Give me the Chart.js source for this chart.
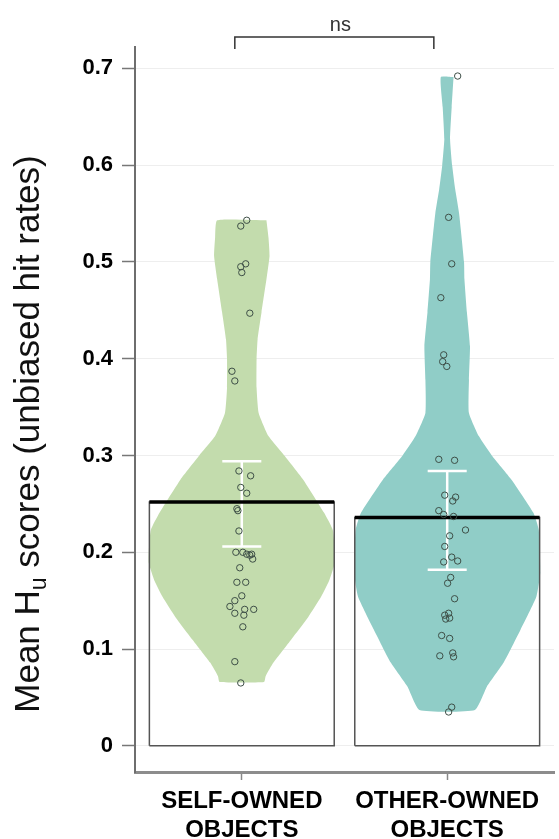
<!DOCTYPE html>
<html>
<head>
<meta charset="utf-8">
<script src="https://cdn.jsdelivr.net/npm/chart.js@4.4.1/dist/chart.umd.min.js"></script>
<style>
  html, body { margin: 0; padding: 0; background: #fff; }
  #wrap { width: 559px; height: 839px; }
</style>
</head>
<body>
<div id="wrap"><canvas id="huChart" width="559" height="839"></canvas></div>
<script>
// groups on the x axis
const groupLabels = [['SELF-OWNED', 'OBJECTS'], ['OTHER-OWNED', 'OBJECTS']];
const groupPos = [1, 2];

// bar heights (means) and error bar ends
const means = [0.252, 0.236];
const errLow = [0.206, 0.182];
const errHigh = [0.294, 0.284];

// y axis ticks
const yTicks = [0, 0.1, 0.2, 0.3, 0.4, 0.5, 0.6, 0.7];

// violin outlines: score level and half width (x units)
const selfViolinY = [0.543, 0.525, 0.506, 0.482, 0.448, 0.42, 0.40, 0.37, 0.344, 0.32, 0.30, 0.275, 0.241, 0.223, 0.20, 0.189, 0.17, 0.154, 0.133, 0.11, 0.086, 0.072, 0.066];
const selfViolinW = [0.120, 0.130, 0.135, 0.120, 0.096, 0.077, 0.072, 0.072, 0.082, 0.130, 0.207, 0.299, 0.400, 0.443, 0.453, 0.453, 0.424, 0.386, 0.323, 0.241, 0.154, 0.116, 0.108];
const otherViolinY = [0.691, 0.66, 0.627, 0.60, 0.575, 0.55, 0.50, 0.482, 0.448, 0.413, 0.378, 0.344, 0.32, 0.30, 0.275, 0.241, 0.223, 0.179, 0.154, 0.12, 0.086, 0.061, 0.037];
const otherViolinW = [0.031, 0.022, 0.014, 0.024, 0.039, 0.058, 0.082, 0.084, 0.096, 0.111, 0.106, 0.106, 0.154, 0.217, 0.313, 0.419, 0.446, 0.453, 0.434, 0.357, 0.275, 0.193, 0.135];

// single participants: score and horizontal jitter
const selfScores = [0.543, 0.537, 0.498, 0.495, 0.489, 0.447, 0.387, 0.377, 0.284, 0.279, 0.267, 0.261, 0.245, 0.243, 0.222, 0.200, 0.200, 0.198, 0.197, 0.198, 0.193, 0.184, 0.169, 0.169, 0.155, 0.150, 0.144, 0.141, 0.141, 0.137, 0.135, 0.123, 0.087, 0.065];
const selfJitter = [0.024, -0.005, 0.019, -0.005, 0.000, 0.039, -0.048, -0.034, -0.014, 0.043, -0.005, 0.024, -0.024, -0.019, -0.014, -0.029, 0.005, 0.024, 0.039, 0.048, 0.053, -0.010, -0.024, 0.019, 0.000, -0.034, -0.058, 0.014, 0.058, -0.034, 0.010, 0.005, -0.034, -0.005];
const otherScores = [0.692, 0.546, 0.498, 0.463, 0.404, 0.397, 0.392, 0.296, 0.295, 0.259, 0.257, 0.253, 0.243, 0.239, 0.237, 0.223, 0.217, 0.206, 0.195, 0.191, 0.190, 0.174, 0.168, 0.152, 0.137, 0.135, 0.132, 0.131, 0.114, 0.111, 0.096, 0.093, 0.092, 0.040, 0.035];
const otherJitter = [0.051, 0.007, 0.022, -0.031, -0.017, -0.022, -0.002, -0.041, 0.036, -0.012, 0.041, 0.027, -0.041, -0.017, 0.031, 0.089, 0.012, -0.012, 0.022, 0.051, -0.017, 0.017, 0.002, 0.036, 0.007, -0.012, 0.012, -0.007, -0.027, 0.012, 0.027, -0.036, 0.031, 0.022, 0.007];

const boxHalf = 0.45;
const capHalf = 0.095;
const violinColors = ['#c3dcad', '#90cdc7'];

// closed outline of a violin around its group position
function violinOutline(center, ys, ws) {
    const right = ys.map((y, i) => ({ x: center + ws[i], y: y }));
    const left = ys.map((y, i) => ({ x: center - ws[i], y: y })).reverse();
    return right.concat(left, [right[0]]);
}

function boxOutline(center, mean) {
    return [
        { x: center - boxHalf, y: 0 }, { x: center - boxHalf, y: mean },
        { x: center + boxHalf, y: mean }, { x: center + boxHalf, y: 0 },
        { x: center - boxHalf, y: 0 }
    ];
}

function errorBar(center, lo, hi) {
    return [
        { x: center - capHalf, y: lo }, { x: center + capHalf, y: lo }, { x: center, y: null },
        { x: center, y: lo }, { x: center, y: hi }, { x: center, y: null },
        { x: center - capHalf, y: hi }, { x: center + capHalf, y: hi }
    ];
}

const violins = [
    violinOutline(groupPos[0], selfViolinY, selfViolinW),
    violinOutline(groupPos[1], otherViolinY, otherViolinW)
];
const dots = [
    selfScores.map((s, i) => ({ x: groupPos[0] + selfJitter[i], y: s })),
    otherScores.map((s, i) => ({ x: groupPos[1] + otherJitter[i], y: s }))
];

const datasets = [];
groupPos.forEach((c, g) => {
    datasets.push({
        data: violins[g], backgroundColor: violinColors[g], borderWidth: 0,
        fill: 'shape', tension: 0.15, pointRadius: 0, order: 5
    });
    datasets.push({
        data: boxOutline(c, means[g]), borderColor: '#555', borderWidth: 1.5,
        fill: false, tension: 0, pointRadius: 0, order: 4
    });
    datasets.push({
        data: errorBar(c, errLow[g], errHigh[g]), borderColor: '#ffffff', borderWidth: 2.5,
        fill: false, tension: 0, pointRadius: 0, spanGaps: false, order: 3
    });
    datasets.push({
        data: [{ x: c - boxHalf, y: means[g] }, { x: c + boxHalf, y: means[g] }],
        borderColor: '#000', borderWidth: 3.5, fill: false, pointRadius: 0, order: 2
    });
    datasets.push({
        data: dots[g], showLine: false, pointRadius: 3.2, pointBorderWidth: 1,
        pointBackgroundColor: 'rgba(0,0,0,0)', pointBorderColor: '#3e4f47', order: 1
    });
});

// y title with subscript, and the "ns" bracket
const extrasPlugin = {
    id: 'extras',
    afterDraw(chart) {
        const ctx = chart.ctx;
        const area = chart.chartArea;
        const x = chart.scales.x;

        // rotated y axis title
        ctx.save();
        ctx.translate(39, 434);
        ctx.rotate(-Math.PI / 2);
        ctx.fillStyle = '#111';
        ctx.textBaseline = 'alphabetic';
        const mainFont = '35px "Liberation Sans", Arial, sans-serif';
        const subFont = '23px "Liberation Sans", Arial, sans-serif';
        const parts = [['Mean H', mainFont, 0], ['u', subFont, 7], [' scores (unbiased hit rates)', mainFont, 0]];
        let total = 0;
        parts.forEach(p => { ctx.font = p[1]; total += ctx.measureText(p[0]).width; });
        let pos = -total / 2;
        parts.forEach(p => {
            ctx.font = p[1];
            ctx.fillText(p[0], pos, p[2]);
            pos += ctx.measureText(p[0]).width;
        });
        ctx.restore();

        // significance bracket
        const x1 = x.getPixelForValue(0.966);
        const x2 = x.getPixelForValue(1.935);
        const top = area.top - 10;
        ctx.save();
        ctx.strokeStyle = '#333';
        ctx.lineWidth = 1.5;
        ctx.beginPath();
        ctx.moveTo(x1, area.top + 2);
        ctx.lineTo(x1, top);
        ctx.lineTo(x2, top);
        ctx.lineTo(x2, area.top + 2);
        ctx.stroke();
        ctx.fillStyle = '#333';
        ctx.font = '20px "Liberation Sans", Arial, sans-serif';
        ctx.textAlign = 'center';
        ctx.textBaseline = 'alphabetic';
        ctx.fillText('ns', (x1 + x2) / 2 + 6, top - 6);
        ctx.restore();
    }
};

new Chart(document.getElementById('huChart'), {
    type: 'line',
    data: { datasets: datasets },
    options: {
        responsive: false,
        animation: false,
        layout: { padding: { top: 47, right: 0, left: 0, bottom: 0 } },
        plugins: { legend: { display: false }, tooltip: { enabled: false } },
        scales: {
            x: {
                type: 'linear',
                min: 0.48,
                max: 2.52,
                afterBuildTicks: scale => { scale.ticks = groupPos.map(v => ({ value: v })); },
                afterFit: scale => { scale.height = 67; },
                ticks: {
                    autoSkip: false,
                    maxRotation: 0,
                    padding: 7,
                    color: '#000',
                    font: { family: '"Liberation Sans", Arial, sans-serif', size: 24, weight: 'bold', lineHeight: 1.2 },
                    callback: value => groupLabels[groupPos.indexOf(value)]
                },
                grid: { drawOnChartArea: false, tickLength: 8, tickColor: '#888', tickWidth: 1.5 },
                border: { color: '#8c8c8c', width: 3 }
            },
            y: {
                type: 'linear',
                min: -0.027,
                max: 0.722,
                afterBuildTicks: scale => { scale.ticks = yTicks.map(v => ({ value: v })); },
                afterFit: scale => { scale.width = 135; },
                ticks: {
                    padding: 9,
                    color: '#000',
                    font: { family: '"Liberation Sans", Arial, sans-serif', size: 22, weight: 'bold' },
                    callback: value => value === 0 ? '0' : value.toFixed(1)
                },
                grid: { color: '#eeeeee', lineWidth: 1, tickLength: 13, tickColor: '#777', tickWidth: 1.5 },
                border: { color: '#6e6e6e', width: 2 }
            }
        }
    },
    plugins: [extrasPlugin]
});
</script>
</body>
</html>
